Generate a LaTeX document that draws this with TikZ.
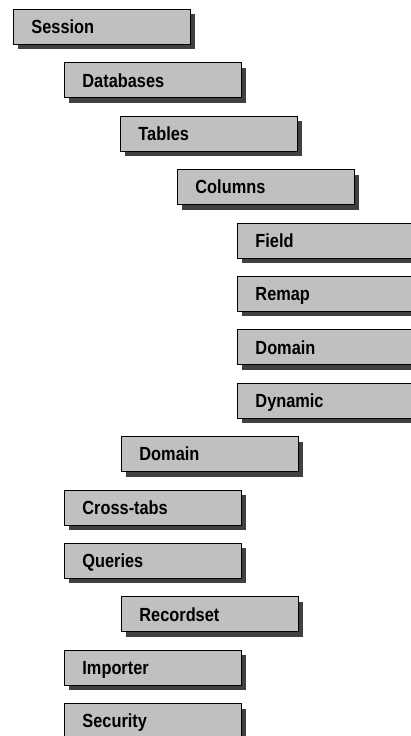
\documentclass[tikz,border=0pt]{standalone}
\usepackage{fontspec}
\newfontfamily\boxfont[FakeStretch=0.86]{Liberation Sans}
\usetikzlibrary{shadows}
\definecolor{boxgray}{HTML}{C0C0C0}
\definecolor{shadowgray}{HTML}{404040}
\tikzset{
  item/.style={draw=black, line width=0.9pt, fill=boxgray, anchor=north west,
    minimum height=35pt, inner xsep=18pt, inner ysep=0pt, text width=141pt, align=left,
    text height=13.6pt, text depth=0pt,
    font=\boxfont\bfseries\fontsize{19}{22}\selectfont,
    drop shadow={shadow xshift=5pt, shadow yshift=-5pt, fill=shadowgray, opacity=1}}
}
\begin{document}
\begin{tikzpicture}[x=1pt,y=1pt]
\useasboundingbox (0,0) rectangle (411,-736);
\fill[white] (0,0) rectangle (411,-736);
\node[item] (session)   at (13,-9)     {Session};
\node[item] (databases) at (64,-62.4)  {Databases};
\node[item] (tables)    at (120,-115.8) {Tables};
\node[item] (columns)   at (177,-169.2) {Columns};
\node[item] (field)     at (237,-222.6) {Field};
\node[item] (remap)     at (237,-276)   {Remap};
\node[item] (domainA)   at (237,-329.4) {Domain};
\node[item] (dynamic)   at (237,-382.8) {Dynamic};
\node[item] (domainB)   at (121,-436.2) {Domain};
\node[item] (crosstabs) at (64,-489.6)  {Cross-tabs};
\node[item] (queries)   at (64,-543)    {Queries};
\node[item] (recordset) at (121,-596.4) {Recordset};
\node[item] (importer)  at (64,-649.8)  {Importer};
\node[item] (security)  at (64,-703.2)  {Security};
\end{tikzpicture}
\end{document}
